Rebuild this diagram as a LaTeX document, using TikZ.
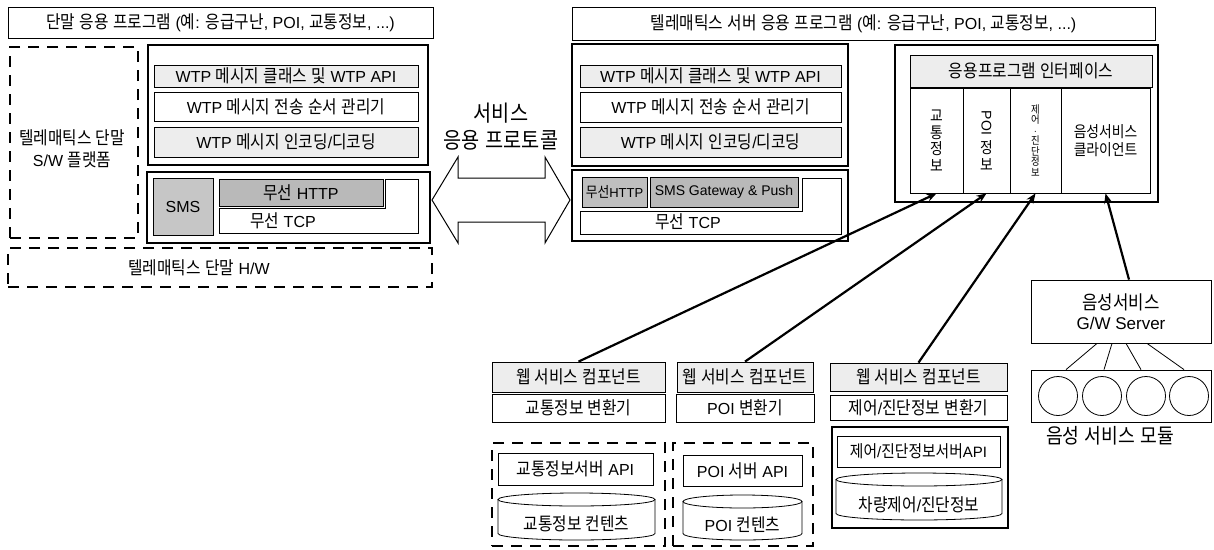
\documentclass[tikz,border=0pt]{standalone}
\usepackage{fontspec}
\setmainfont{Liberation Sans}
\newfontfamily\ko[Scale=1.12, FakeStretch=0.88]{Noto Sans CJK KR}
\XeTeXinterchartokenstate=1
\newXeTeXintercharclass\hgclass
\newcount\hgc
\hgc="AC00
\loop\XeTeXcharclass\hgc=\hgclass\ifnum\hgc<"D7A3 \advance\hgc by 1 \repeat
\XeTeXinterchartoks 0 \hgclass = {\ko}
\XeTeXinterchartoks 4095 \hgclass = {\ko}
\XeTeXinterchartoks \hgclass 0 = {\rmfamily}
\XeTeXinterchartoks \hgclass 4095 = {\rmfamily}
\usepackage{graphicx}
\usetikzlibrary{fit,arrows.meta,calc}
\tikzset{
  bx/.style={draw, line width=0.8pt, inner sep=0pt},
  thickbx/.style={draw, line width=2.6pt, inner sep=0pt},
  dashbx/.style={draw, line width=2.4pt, dash pattern=on 11pt off 8pt, inner sep=0pt},
  lg/.style={fill=gray!14},
  dg/.style={fill=gray!55},
  conn/.style={line width=2.2pt, -{Stealth[length=10pt,width=8pt]}},
  thinl/.style={line width=0.8pt},
  txt/.style={inner sep=0pt, align=center},
}
\begin{document}
\begin{tikzpicture}[x=1pt,y=-1pt, font=\fontsize{16}{19}\selectfont]
\useasboundingbox (0,0) rectangle (1214,549);

% ---------- terminal side ----------
\node[bx, fit={(8,7)(433,38)}] (lapp) {};
\node[txt] (lappt) at (lapp) {단말 응용 프로그램 (예: 응급구난, POI, 교통정보, ...)};
\node[dashbx, fit={(10,47)(138,238)}] (lsw) {};
\node[txt, font=\fontsize{16}{22}\selectfont] (lswt) at (72,149) {텔레매틱스 단말\\S/W 플랫폼};

\node[thickbx, fit={(148,45)(428,165)}] (ltop) {};
\node[bx, lg, fit={(154,65)(418,87)}] (l1) {};
\node[txt] (l1t) at (l1) {WTP 메시지 클래스 및 WTP API};
\node[bx, fit={(154,92)(418,121)}] (l2) {};
\node[txt] (l2t) at (l2) {WTP 메시지 전송 순서 관리기};
\node[bx, lg, fit={(154,127)(418,157)}] (l3) {};
\node[txt] (l3t) at (l3) {WTP 메시지 인코딩/디코딩};

\node[thickbx, fit={(147,172)(430,243)}] (lbot) {};
\node[bx, fill=gray!45, fit={(153,178)(213,235)}] (lsms) {};
\node[txt] (lsmst) at (lsms) {SMS};
\node[bx, dg, fit={(219,179)(383,206)}] (lhttp) {};
\node[txt] (lhttpt) at (lhttp) {무선 HTTP};
\draw[thinl] (219,208) -- (385,208) -- (385,179) -- (418,179) -- (418,233) -- (219,233) -- cycle;
\node[txt] (ltcp) at (283,221) {무선 TCP};

\node[dashbx, fit={(8,248)(432,287)}] (lhw) {};
\node[txt] (lhwt) at (199,268) {텔레매틱스 단말 H/W};

% ---------- protocol arrow ----------
\node[txt, font=\fontsize{20}{27}\selectfont] (svc) at (501,127) {서비스\\응용 프로토콜};
\draw[line width=1pt] (432,200) -- (458,157) -- (458,178) -- (545,178) -- (545,157) -- (570,200)
  -- (545,243) -- (545,222) -- (458,222) -- (458,243) -- cycle;

% ---------- server side ----------
\node[bx, fit={(572,7)(1155,40)}] (sapp) {};
\node[txt] (sappt) at (sapp) {텔레매틱스 서버 응용 프로그램 (예: 응급구난, POI, 교통정보, ...)};

\node[thickbx, fit={(572,44)(848,166)}] (stop) {};
\node[bx, lg, fit={(580,65)(841,87)}] (s1) {};
\node[txt] (s1t) at (s1) {WTP 메시지 클래스 및 WTP API};
\node[bx, fit={(580,92)(841,122)}] (s2) {};
\node[txt] (s2t) at (s2) {WTP 메시지 전송 순서 관리기};
\node[bx, lg, fit={(580,127)(841,157)}] (s3) {};
\node[txt] (s3t) at (s3) {WTP 메시지 인코딩/디코딩};

\node[thickbx, fit={(572,170)(848,241)}] (sbot) {};
\node[bx, fill=gray!50, fit={(582,177)(647,207)}] (shttp) {};
\node[txt, font=\fontsize{13}{15}\selectfont] (shttpt) at (shttp) {무선HTTP};
\node[bx, dg, fit={(650,177)(798,207)}] (ssms) {};
\node[txt, font=\fontsize{14}{16}\selectfont] (ssmst) at (ssms) {SMS Gateway \& Push};
\draw[thinl] (580,211) -- (802,211) -- (802,178) -- (841,178) -- (841,234) -- (580,234) -- cycle;
\node[txt] (stcp) at (688,222) {무선 TCP};

% ---------- application interface ----------
\node[thickbx, fit={(895,45)(1158,202)}] (sif) {};
\node[bx, lg, fit={(910,55)(1152,87)}] (sifh) {};
\node[txt] (sifht) at (sifh) {응용프로그램 인터페이스};
\node[bx, fit={(910,88)(963,193)}] (c1) {};
\node[txt, font=\fontsize{14}{16.5}\selectfont] (c1t) at (c1) {교\\통\\정\\보};
\node[bx, fit={(963,88)(1010,193)}] (c2) {};
\node[txt, font=\fontsize{14}{17}\selectfont] (c2t) at (c2) {\rotatebox{-90}{POI}\\[4pt]정\\보};
\node[bx, fit={(1010,88)(1061,193)}] (c3) {};
\node[txt, font=\fontsize{9.5}{10.5}\selectfont] (c3t) at (c3) {제\\어\\·\\진\\단\\정\\보};
\node[bx, fit={(1061,88)(1150,193)}] (c4) {};
\node[txt, font=\fontsize{14}{18}\selectfont] (c4t) at (c4) {음성서비스\\클라이언트};

% ---------- web service components ----------
\node[bx, lg, fit={(492,362)(665,392)}] (wsA) {};
\node[txt] (wsAt) at (wsA) {웹 서비스 컴포넌트};
\node[bx, fit={(492,394)(665,422)}] (cvA) {};
\node[txt] (cvAt) at (cvA) {교통정보 변환기};
\node[bx, lg, fit={(677,362)(813,392)}] (wsB) {};
\node[txt] (wsBt) at (wsB) {웹 서비스 컴포넌트};
\node[bx, fit={(676,394)(814,422)}] (cvB) {};
\node[txt] (cvBt) at (cvB) {POI 변환기};
\node[bx, lg, fit={(830,363)(1007,391)}] (wsC) {};
\node[txt] (wsCt) at (wsC) {웹 서비스 컴포넌트};
\node[bx, fit={(830,395)(1007,420)}] (cvC) {};
\node[txt] (cvCt) at (cvC) {제어/진단정보 변환기};

% traffic server
\node[dashbx, fit={(492,443)(665,546)}] (dA) {};
\node[bx, fit={(498,453)(653,485)}] (apiA) {};
\node[txt] (apiAt) at (apiA) {교통정보서버 API};
\draw[thinl] (498,499.5) -- (498,533.5) arc[start angle=180, end angle=360, x radius=78.5pt, y radius=6.5pt] -- (655,499.5);
\draw[thinl] (576.5,499.5) ellipse[x radius=78.5pt, y radius=6.5pt];
\node[txt] (ctA) at (576.5,524) {교통정보 컨텐츠};

% POI server
\node[dashbx, fit={(673,443)(813,546)}] (dB) {};
\node[bx, fit={(683,455)(802,486)}] (apiB) {};
\node[txt] (apiBt) at (apiB) {POI 서버 API};
\draw[thinl] (683,501.5) -- (683,533.5) arc[start angle=180, end angle=360, x radius=59.5pt, y radius=6.5pt] -- (802,501.5);
\draw[thinl] (742.5,501.5) ellipse[x radius=59.5pt, y radius=6.5pt];
\node[txt] (ctB) at (742.5,525) {POI 컨텐츠};

% control/diagnosis server
\node[thickbx, fit={(832,427)(1008,528)}] (dC) {};
\node[bx, fit={(837,436)(1000,467)}] (apiC) {};
\node[txt, font=\fontsize{15}{17}\selectfont] (apiCt) at (apiC) {제어/진단정보서버API};
\draw[thinl] (836,479.5) -- (836,513.5) arc[start angle=180, end angle=360, x radius=83pt, y radius=6.5pt] -- (1002,479.5);
\draw[thinl] (919,479.5) ellipse[x radius=83pt, y radius=6.5pt];
\node[txt] (ctC) at (919,505) {차량제어/진단정보};

% ---------- voice service ----------
\node[bx, fit={(1031,280)(1211,343)}] (gw) {};
\node[txt, font=\fontsize{17}{20}\selectfont] (gwt) at (gw) {음성서비스\\G/W Server};
\node[bx, fit={(1031,370)(1211,422)}] (mod) {};
\node[draw, thinl, circle, minimum size=39pt, inner sep=0pt] (m1) at (1058,396) {};
\node[draw, thinl, circle, minimum size=39pt, inner sep=0pt] (m2) at (1102,396) {};
\node[draw, thinl, circle, minimum size=39pt, inner sep=0pt] (m3) at (1146,396) {};
\node[draw, thinl, circle, minimum size=39pt, inner sep=0pt] (m4) at (1189,396) {};
\node[txt, font=\fontsize{18.5}{22}\selectfont] (modt) at (1110,436) {음성 서비스 모듈};
\draw[thinl] ([xshift=-24pt]gw.south) -- ([xshift=-55pt]mod.north);
\draw[thinl] ([xshift=-9pt]gw.south) -- ([xshift=-17pt]mod.north);
\draw[thinl] ([xshift=5pt]gw.south) -- ([xshift=20pt]mod.north);
\draw[thinl] ([xshift=26pt]gw.south) -- ([xshift=63pt]mod.north);

% ---------- connectors ----------
\draw[conn] (wsA.north) -- (c1.south);
\draw[conn] (wsB.north) -- (c2.south);
\draw[conn] (wsC.north) -- (c3.south);
\draw[conn] ([xshift=8pt]gw.north) -- (c4.south);
\end{tikzpicture}
\end{document}
